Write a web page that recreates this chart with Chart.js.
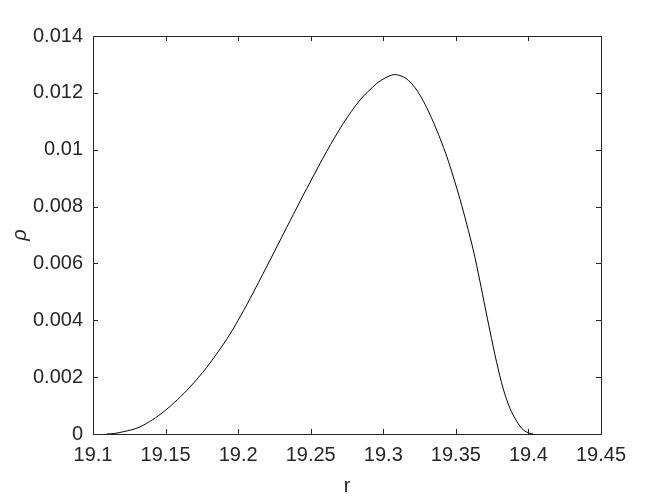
<!DOCTYPE html>
<html>
<head>
<meta charset="utf-8">
<script src="https://cdn.jsdelivr.net/npm/chart.js@4"></script>
<style>
  html, body { margin: 0; padding: 0; background: #fff; }
  #wrap { width: 664px; height: 498px; }
</style>
</head>
<body>
<div id="wrap"><canvas id="rhoChart" width="664" height="498"></canvas></div>
<script>
// values
const rValues = [19.1094, 19.1150, 19.1209, 19.1267, 19.1324, 19.1410, 19.1496,
    19.1582, 19.1668, 19.1783, 19.1921, 19.2000, 19.2082, 19.2196, 19.2311,
    19.2403, 19.2495, 19.2610, 19.2725, 19.2840, 19.2955, 19.3012, 19.3069,
    19.3115, 19.3161, 19.3207, 19.3253, 19.3299, 19.3345, 19.3391, 19.3437,
    19.3483, 19.3529, 19.3575, 19.3620, 19.3666, 19.3700, 19.3735, 19.3781,
    19.3827, 19.3873, 19.3919, 19.3965, 19.4011, 19.4034];
const rhoValues = [0, 0.00002, 0.00008, 0.00015, 0.00025, 0.0005, 0.00082,
    0.00121, 0.00165, 0.00234, 0.00333, 0.004, 0.00476, 0.00588, 0.00703,
    0.00795, 0.00885, 0.00994, 0.01093, 0.01175, 0.01233, 0.01252, 0.01264,
    0.01261, 0.01249, 0.01226, 0.01192, 0.01148, 0.01097, 0.0104, 0.00977,
    0.00904, 0.00825, 0.00738, 0.00647, 0.00537, 0.0045, 0.00362, 0.00252,
    0.00158, 0.0009, 0.00045, 0.00014, 0.00002, 0];

const xTicks = [19.1, 19.15, 19.2, 19.25, 19.3, 19.35, 19.4, 19.45];
const yTicks = [0, 0.002, 0.004, 0.006, 0.008, 0.01, 0.012, 0.014];

const axisColor = '#262626';
const fontFamily = '"Liberation Sans", Arial, Helvetica, sans-serif';

// MATLAB-style box with inward ticks
const boxPlugin = {
    id: 'matlabBox',
    afterDraw(chart) {
        const { ctx, chartArea: a, scales } = chart;
        ctx.save();
        ctx.strokeStyle = axisColor;
        ctx.lineWidth = 1;
        ctx.strokeRect(a.left + 0.5, a.top + 0.5, a.right - a.left, a.bottom - a.top);
        const len = 5;
        ctx.beginPath();
        xTicks.forEach(v => {
            const x = Math.round(scales.x.getPixelForValue(v)) + 0.5;
            ctx.moveTo(x, a.bottom);
            ctx.lineTo(x, a.bottom - len);
            ctx.moveTo(x, a.top);
            ctx.lineTo(x, a.top + len);
        });
        yTicks.forEach(v => {
            const y = Math.round(scales.y.getPixelForValue(v)) + 0.5;
            ctx.moveTo(a.left, y);
            ctx.lineTo(a.left + len, y);
            ctx.moveTo(a.right, y);
            ctx.lineTo(a.right - len, y);
        });
        ctx.stroke();
        ctx.restore();
    }
};

new Chart(document.getElementById('rhoChart').getContext('2d'), {
    type: 'scatter',
    data: {
        datasets: [{
            data: rValues.map((r, i) => ({ x: r, y: rhoValues[i] })),
            showLine: true,
            borderColor: '#000',
            borderWidth: 1,
            pointRadius: 0,
            tension: 0.3,
            fill: false
        }]
    },
    options: {
        responsive: false,
        animation: false,
        devicePixelRatio: 1,
        layout: { padding: { left: 0, top: 36, right: 63, bottom: 0 } },
        plugins: {
            legend: { display: false },
            tooltip: { enabled: false }
        },
        scales: {
            x: {
                type: 'linear',
                min: 19.1,
                max: 19.45,
                grid: { display: false, drawTicks: false },
                border: { display: false },
                afterBuildTicks: scale => { scale.ticks = xTicks.map(v => ({ value: v })); },
                afterFit: scale => { scale.height = 64; },
                ticks: {
                    color: axisColor,
                    padding: 9,
                    maxRotation: 0,
                    font: { family: fontFamily, size: 20 },
                    callback: v => String(+v.toFixed(2))
                },
                title: {
                    display: true,
                    text: 'r',
                    color: axisColor,
                    padding: { top: 0, bottom: 0 },
                    font: { family: fontFamily, size: 20 }
                }
            },
            y: {
                type: 'linear',
                min: 0,
                max: 0.014,
                grid: { display: false, drawTicks: false },
                border: { display: false },
                afterBuildTicks: scale => { scale.ticks = yTicks.map(v => ({ value: v })); },
                afterFit: scale => { scale.width = 93; },
                ticks: {
                    color: axisColor,
                    padding: 10,
                    font: { family: fontFamily, size: 20 },
                    callback: v => String(+v.toFixed(3))
                },
                title: {
                    display: true,
                    text: 'ρ',
                    color: axisColor,
                    padding: { top: 8, bottom: 0 },
                    font: { family: fontFamily, size: 20, style: 'italic' }
                }
            }
        }
    },
    plugins: [boxPlugin]
});
</script>
</body>
</html>
